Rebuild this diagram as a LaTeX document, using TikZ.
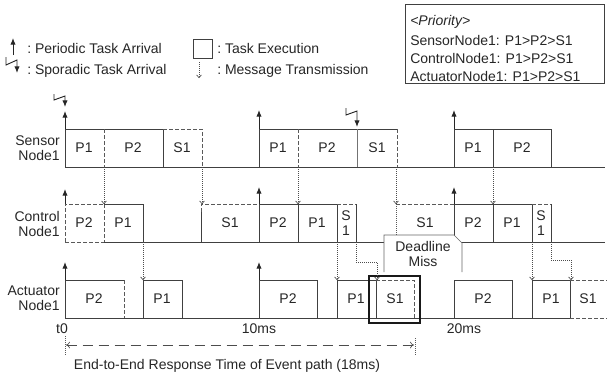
\documentclass[tikz,border=0pt]{standalone}
\usepackage{fontspec}
\setmainfont{Liberation Sans}
\usetikzlibrary{arrows.meta}
\begin{document}
\begin{tikzpicture}[x=0.75pt,y=-0.75pt,
  font=\fontsize{10.5}{11.5}\selectfont,
  ln/.style={draw=black!75,line width=0.6pt},
  dl/.style={draw=black!65,line width=0.6pt,dash pattern=on 3pt off 1.5pt},
  dt/.style={draw=black!65,line width=0.5pt,densely dotted},
  msg/.style={draw=black!70,line width=0.5pt,densely dotted,-{To[length=2.5pt,width=4pt]}},
  arr/.style={draw=black!85,line width=0.7pt,-{Latex[length=5pt,width=4pt]}},
  lbl/.style={inner sep=0pt,text=black!85},
  bold/.style={draw=black!90,line width=1.3pt},
]
\useasboundingbox (0,0) rectangle (607,376);

% ---------- legend ----------
\draw[arr] (13,55) -- (13,38);
\node[lbl,anchor=west] (lgper) at (27,48) {:\ Periodic Task Arrival};
\draw[arr] (6,57) -- (6,65) -- (17,60) -- (17,73);
\node[lbl,anchor=west] (lgspo) at (27,71) {:\ Sporadic Task Arrival};
\draw[ln] (193,39) rectangle (212,58);
\node[lbl,anchor=west] (lgtask) at (217,48) {:\ Task Execution};
\draw[msg] (199,62) -- (199,78);
\node[lbl,anchor=west] (lgmsg) at (217,71) {:\ Message Transmission};

% ---------- priority box ----------
\draw[ln] (405,4) rectangle (604,83);
\node[lbl,anchor=west] (pr0) at (410,22) {\itshape <Priority>};
\node[lbl,anchor=west] (pr1) at (410,40) {SensorNode1: P1>P2>S1};
\node[lbl,anchor=west] (pr2) at (410,58) {ControlNode1: P1>P2>S1};
\node[lbl,anchor=west] (pr3) at (410,76) {ActuatorNode1: P1>P2>S1};

% ---------- row labels ----------
\node[lbl,align=right,anchor=east] (rs) at (60,148) {Sensor\\Node1};
\node[lbl,align=right,anchor=east] (rc) at (60,224) {Control\\Node1};
\node[lbl,align=right,anchor=east] (ra) at (60,298) {Actuator\\Node1};

% ---------- sensor row (top 129, base 167) ----------
\draw[ln] (65,167) -- (605,167);
\draw[ln] (65,167) -- (65,129) -- (163,129) -- (163,167);
\draw[dl] (104,129) -- (104,167);
\draw[dl] (163,129) -- (202,129) -- (202,167);
\draw[ln] (259,167) -- (259,129) -- (397,129);
\draw[dl] (298,129) -- (298,167);
\draw[draw=black!55,line width=0.5pt] (357,129) -- (357,167);
\draw[dl] (397,129) -- (397,167);
\draw[ln] (454,167) -- (454,129) -- (551,129) -- (551,167);
\draw[ln] (493,129) -- (493,167);
\node[lbl] (s1) at (84,148) {P1};
\node[lbl] (s2) at (133,148) {P2};
\node[lbl] (s3) at (182,148) {S1};
\node[lbl] (s4) at (278,148) {P1};
\node[lbl] (s5) at (327,148) {P2};
\node[lbl] (s6) at (377,148) {S1};
\node[lbl] (s7) at (473,148) {P1};
\node[lbl] (s8) at (522,148) {P2};

% ---------- control row (top 204, base 242) ----------
\draw[dl] (65,242) -- (104,242);
\draw[ln] (104,242) -- (605,242);
\draw[dl] (65,242) -- (65,204) -- (104,204);
\draw[dl] (104,204) -- (104,242);
\draw[ln] (104,204) -- (143,204) -- (143,242);
\draw[ln] (201,242) -- (201,212);
\draw[dl] (201,212) -- (201,204) -- (259,204);
\draw[ln] (259,242) -- (259,204) -- (337,204) -- (337,242);
\draw[ln] (298,204) -- (298,242);
\draw[dl] (337,204) -- (356,204);
\draw[ln] (356,204) -- (356,242);
\draw[dl] (396,204) -- (454,204);
\draw[ln] (454,242) -- (454,204) -- (532,204) -- (532,242);
\draw[ln] (493,204) -- (493,242);
\draw[dl] (532,204) -- (551,204);
\draw[ln] (551,204) -- (551,242);
\node[lbl] (c1) at (84,223) {P2};
\node[lbl] (c2) at (123,223) {P1};
\node[lbl] (c3) at (230,223) {S1};
\node[lbl] (c4) at (278,223) {P2};
\node[lbl] (c5) at (317,223) {P1};
\node[lbl,align=center] (c6) at (346,223) {S\\1};
\node[lbl] (c7) at (425,223) {S1};
\node[lbl] (c8) at (473,223) {P2};
\node[lbl] (c9) at (512,223) {P1};
\node[lbl,align=center] (c10) at (541,223) {S\\1};

% ---------- actuator row (top 280, base 318) ----------
\draw[ln] (65,318) -- (570,318);
\draw[dl] (570,318) -- (607,318);
\draw[ln] (65,318) -- (65,280) -- (124,280);
\draw[dl] (124,280) -- (124,318);
\draw[ln] (143,318) -- (143,280) -- (182,280) -- (182,318);
\draw[ln] (259,318) -- (259,280) -- (317,280) -- (317,318);
\draw[ln] (337,318) -- (337,280) -- (376,280) -- (376,318);
\draw[dl] (376,280) -- (414,280) -- (414,318);
\draw[bold] (369,276) rectangle (420,323);
\draw[ln] (454,318) -- (454,280) -- (512,280) -- (512,318);
\draw[ln] (532,318) -- (532,280) -- (570,280) -- (570,318);
\draw[dl] (570,280) -- (607,280);
\node[lbl] (a1) at (94,299) {P2};
\node[lbl] (a2) at (162,299) {P1};
\node[lbl] (a3) at (288,299) {P2};
\node[lbl] (a4) at (356,299) {P1};
\node[lbl] (a5) at (395,299) {S1};
\node[lbl] (a6) at (483,299) {P2};
\node[lbl] (a7) at (551,299) {P1};
\node[lbl] (a8) at (588,299) {S1};

% ---------- deadline miss callout ----------
\fill[white] (384,235) -- (454,235) -- (462,243) -- (462,272) -- (384,272) -- cycle;
\draw[draw=black!60,line width=0.5pt] (384,272) -- (384,235) -- (454,235) -- (462,243) -- (462,272);
\draw[dt] (396,204) -- (396,235);
\node[lbl,align=center] (dm) at (423,254) {Deadline\\Miss};

% ---------- arrivals ----------
\draw[arr] (65,129) -- (65,111);
\draw[arr] (54,94) -- (54,100) -- (65,96) -- (65,107);
\draw[arr] (259,129) -- (259,110);
\draw[arr] (346,108) -- (346,115) -- (357,111) -- (357,127);
\draw[arr] (454,129) -- (454,110);
\draw[arr] (65,204) -- (65,189);
\draw[arr] (259,204) -- (259,187);
\draw[arr] (454,204) -- (454,187);
\draw[arr] (65,280) -- (65,262);
\draw[arr] (259,280) -- (259,262);

% ---------- messages ----------
\draw[msg] (104,167) -- (104,204);
\draw[msg] (202,167) -- (202,204);
\draw[msg] (143,242) -- (143,280);
\draw[msg] (298,167) -- (298,204);
\draw[msg] (396,167) -- (396,204);
\draw[msg] (337,242) -- (337,280);
\draw[msg] (356,242) -- (356,262) -- (377,262) -- (377,280);
\draw[msg] (493,167) -- (493,204);
\draw[msg] (532,242) -- (532,280);
\draw[msg] (551,242) -- (551,260) -- (571,260) -- (571,280);

% ---------- time axis ----------
\node[lbl] (t0) at (62,329) {t0};
\node[lbl] (t10) at (259,329) {10ms};
\node[lbl] (t20) at (464,329) {20ms};

% ---------- end-to-end ----------
\draw[dt] (65,336) -- (65,356);
\draw[dt] (415,338) -- (415,356);
\draw[draw=black!70,line width=0.5pt,dash pattern=on 8pt off 4pt,{To[length=3pt,width=5pt]}-{To[length=3pt,width=5pt]}] (66,345) -- (414,345);
\node[lbl] (e2e) at (227,366) {End-to-End Response Time of Event path (18ms)};
\end{tikzpicture}
\end{document}
